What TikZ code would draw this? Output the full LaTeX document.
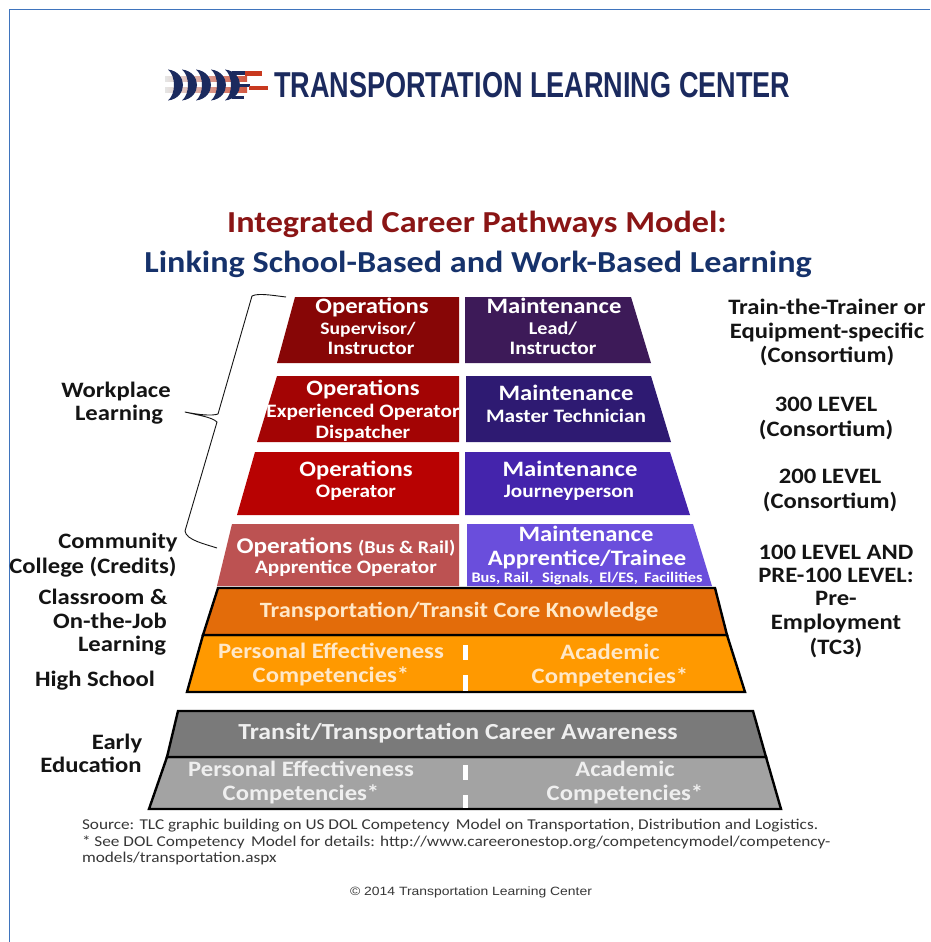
\documentclass[tikz,border=0pt]{standalone}
\usepackage{fontspec}
\setmainfont[FakeStretch=1.12]{Carlito}
\newfontfamily\plainfont[FakeStretch=1.15]{Carlito}
\newfontfamily\logofont[FakeStretch=0.752]{Liberation Sans}
\newfontfamily\copyfont[FakeStretch=1.16]{Liberation Sans}
\definecolor{navy}{HTML}{1B2A5E}
\definecolor{titlered}{HTML}{8A1515}
\definecolor{titleblue}{HTML}{16326B}
\definecolor{ink}{HTML}{141414}
\definecolor{creamtext}{HTML}{FFE8C8}
\definecolor{graytext}{HTML}{EFEFEF}
\definecolor{opsA}{HTML}{870606}
\definecolor{opsB}{HTML}{A30404}
\definecolor{opsC}{HTML}{B80202}
\definecolor{opsD}{HTML}{BC5252}
\definecolor{mntA}{HTML}{3D1A58}
\definecolor{mntB}{HTML}{2E1A72}
\definecolor{mntC}{HTML}{4424AC}
\definecolor{mntD}{HTML}{6A4EDC}
\definecolor{orgA}{HTML}{E36C0A}
\definecolor{orgB}{HTML}{FF9900}
\definecolor{gryA}{HTML}{7A7A7A}
\definecolor{gryB}{HTML}{A3A3A3}
\definecolor{edgeblue}{HTML}{3F74BD}
\definecolor{logored}{HTML}{C8391F}
\tikzset{
  txt/.style={inner sep=0pt,outer sep=0pt,anchor=center,align=center},
  block/.style={fill=#1,draw=none},
  framed/.style={fill=#1,draw=black,line width=2.4pt,line join=miter},
  gap/.style={fill=white,draw=none},
  crescent/.style={fill=navy,draw=none},
  bracket/.style={draw=ink,line width=0.9pt,line join=round}
}
% name, x, y, size, colour, text
\newcommand{\lbl}[6]{\node[txt,yshift=-2pt,text=#5,font=\fontsize{#4}{#4}\selectfont\bfseries] (#1) at (#2,#3) {\vphantom{Ag}#6};}
\begin{document}
\begin{tikzpicture}[x=1pt,y=-1pt]
\useasboundingbox (0,0) rectangle (930,942);
\fill[white] (0,0) rectangle (930,942);
% page edge
\draw[edgeblue,line width=1.4pt] (9.5,942) -- (9.5,9.5) -- (930,9.5);
% logo
\foreach \sy in {79,90}{
  \shade[left color=gray!20,middle color=orange!35,right color=logored!85] (165,\sy-2.5) rectangle (247,\sy+2.5);
}
\foreach \cx in {168,182,196,211,225}{
  \path[crescent] (\cx,69.5) .. controls (\cx+20,72) and (\cx+20,98) .. (\cx,100.5)
     .. controls (\cx+8,94) and (\cx+8,76) .. (\cx,69.5) -- cycle;
}
\fill[navy] (232,71.5) rectangle (246,74.5);
\fill[navy] (232,95.5) rectangle (244,98.5);
\fill[navy] (238,84) rectangle (250,87);
\fill[logored] (245,71.5) rectangle (262,75.5);
\fill[logored] (249,85.5) rectangle (268,89.5);
\node[txt,anchor=west,text=navy,font=\fontsize{36}{36}\selectfont\logofont\bfseries] (logo) at (274,85.5) {TRANSPORTATION LEARNING CENTER};
% titles
\lbl{titleA}{477}{222}{30.5}{titlered}{Integrated Career Pathways Model:}
\lbl{titleB}{478}{262}{30.5}{titleblue}{Linking School-Based and Work-Based Learning}
% operations column
\fill[block=opsA] (295,297) -- (459,297) -- (459,363) -- (277,363) -- cycle;
\fill[block=opsB] (277,376) -- (459,376) -- (459,442) -- (257,442) -- cycle;
\fill[block=opsC] (255,452) -- (459,452) -- (459,515) -- (237,515) -- cycle;
\fill[block=opsD] (232,524) -- (459,524) -- (459,586) -- (217,586) -- cycle;
% maintenance column
\fill[block=mntA] (465,297) -- (631,297) -- (651,363) -- (465,363) -- cycle;
\fill[block=mntB] (466,376) -- (651,376) -- (671,442) -- (466,442) -- cycle;
\fill[block=mntC] (465,452) -- (670,452) -- (690,515) -- (465,515) -- cycle;
\fill[block=mntD] (467,524) -- (693,524) -- (712,586) -- (467,586) -- cycle;
% lower bands
\draw[framed=orgB] (203,635) -- (727,635) -- (745,692) -- (187,692) -- cycle;
\draw[framed=orgA] (218,588) -- (715,588) -- (727,635) -- (203,635) -- cycle;
\draw[framed=gryB] (167,757) -- (766,757) -- (781,809) -- (149,809) -- cycle;
\draw[framed=gryA] (178,711) -- (753,711) -- (766,757) -- (167,757) -- cycle;
\fill[gap] (462.5,645) rectangle (467.5,660);
\fill[gap] (462.5,675) rectangle (467.5,691);
\fill[gap] (462.5,765) rectangle (467.5,780);
\fill[gap] (462.5,795) rectangle (467.5,808);
% brace
\coordinate (bA) at (286,297);
\coordinate (bB) at (185,412);
\coordinate (bC) at (217,548);
\draw[bracket] (bA) .. controls (270,295) and (258,293) .. (252,296)
  -- (218,414) .. controls (212,416) and (200,415) .. (bB)
  .. controls (197,415) and (212,417) .. (217,422)
  -- (185,531) .. controls (186,540) and (205,544) .. (bC);
% texts in column
\lbl{oa}{372}{306}{22}{white}{Operations}
\lbl{ob}{368}{328}{17.5}{white}{Supervisor/}
\lbl{oc}{371}{348}{19}{white}{Instructor}
\lbl{ma}{554}{306}{22}{white}{Maintenance}
\lbl{mb}{553}{328}{18}{white}{Lead/}
\lbl{mc}{553}{348}{19}{white}{Instructor}
\lbl{od}{363}{388}{22}{white}{Operations}
\lbl{oe}{363}{410}{19}{white}{Experienced Operator}
\lbl{of}{363}{431}{19}{white}{Dispatcher}
\lbl{md}{566}{393}{22}{white}{Maintenance}
\lbl{me}{566}{415}{19}{white}{Master Technician}
\lbl{og}{356}{469}{22}{white}{Operations}
\lbl{oh}{356}{491}{19}{white}{Operator}
\lbl{mf}{570}{469}{22}{white}{Maintenance}
\lbl{mg}{569}{491}{19}{white}{Journeyperson}
\lbl{oi}{346}{545}{22.5}{white}{Operations {\fontsize{18}{18}\selectfont (Bus \& Rail)}}
\lbl{oj}{346}{566}{19}{white}{Apprentice Operator}
\lbl{mh}{586}{534}{22}{white}{Maintenance}
\lbl{mi}{587}{558}{22}{white}{Apprentice/Trainee}
\lbl{mj}{587}{577}{14.6}{white}{Bus, Rail,\,\, Signals,\, El/ES,\, Facilities}
\lbl{ca}{459}{610}{21.8}{creamtext}{Transportation/Transit Core Knowledge}
\lbl{cb}{331}{651}{22}{creamtext}{Personal Effectiveness}
\lbl{cc}{331}{674}{22}{creamtext}{Competencies*}
\lbl{cd}{610}{652}{22}{creamtext}{Academic}
\lbl{ce}{610}{675}{22}{creamtext}{Competencies*}
\lbl{ga}{458}{731}{23}{graytext}{Transit/Transportation Career Awareness}
\lbl{gb}{301}{769}{22}{graytext}{Personal Effectiveness}
\lbl{gc}{301}{792}{22}{graytext}{Competencies*}
\lbl{gd}{625}{769}{22}{graytext}{Academic}
\lbl{ge}{625}{792}{22}{graytext}{Competencies*}
% left labels
\lbl{la}{116}{390}{22}{ink}{Workplace}
\lbl{lb}{119}{413}{22}{ink}{Learning}
\lbl{lc}{118}{541}{22}{ink}{Community}
\lbl{ld}{93}{565}{22}{ink}{College (Credits)}
\lbl{le}{103}{597}{22}{ink}{Classroom \&}
\lbl{lf}{110}{621}{22}{ink}{On-the-Job}
\lbl{lg}{122}{644}{22}{ink}{Learning}
\lbl{lh}{95}{679}{22}{ink}{High School}
\lbl{li}{117}{742}{22}{ink}{Early}
\lbl{lj}{91}{765}{22}{ink}{Education}
% right labels
\lbl{ra}{827}{307}{22}{ink}{Train-the-Trainer or}
\lbl{rb}{827}{331}{22}{ink}{Equipment-specific}
\lbl{rc}{827}{354}{22}{ink}{(Consortium)}
\lbl{rd}{826}{404}{22}{ink}{300 LEVEL}
\lbl{re}{826}{428}{22}{ink}{(Consortium)}
\lbl{rf}{830}{476}{22}{ink}{200 LEVEL}
\lbl{rg}{830}{500}{22}{ink}{(Consortium)}
\lbl{rh}{836}{552}{22}{ink}{100 LEVEL AND}
\lbl{ri}{836}{575}{22}{ink}{PRE-100 LEVEL:}
\lbl{rj}{836}{598}{22}{ink}{Pre-}
\lbl{rk}{836}{622}{22}{ink}{Employment}
\lbl{rl}{836}{646}{22}{ink}{(TC3)}
% footer
\node[txt,anchor=base west,text=ink!85,font=\fontsize{15}{15}\selectfont\plainfont] (fa) at (82,829) {Source: TLC graphic building on US DOL Competency\, Model on Transportation, Distribution and Logistics.};
\node[txt,anchor=base west,text=ink!85,font=\fontsize{15}{15}\selectfont\plainfont] (fb) at (82,846) {* See DOL Competency\, Model for details: http://www.careeronestop.org/competencymodel/competency-};
\node[txt,anchor=base west,text=ink!85,font=\fontsize{15}{15}\selectfont\plainfont] (fc) at (82,862) {models/transportation.aspx};
\node[txt,text=ink!85,font=\fontsize{12}{12}\selectfont\copyfont] (fd) at (471,892) {\char"00A9{} 2014 Transportation Learning Center};
\end{tikzpicture}
\end{document}
